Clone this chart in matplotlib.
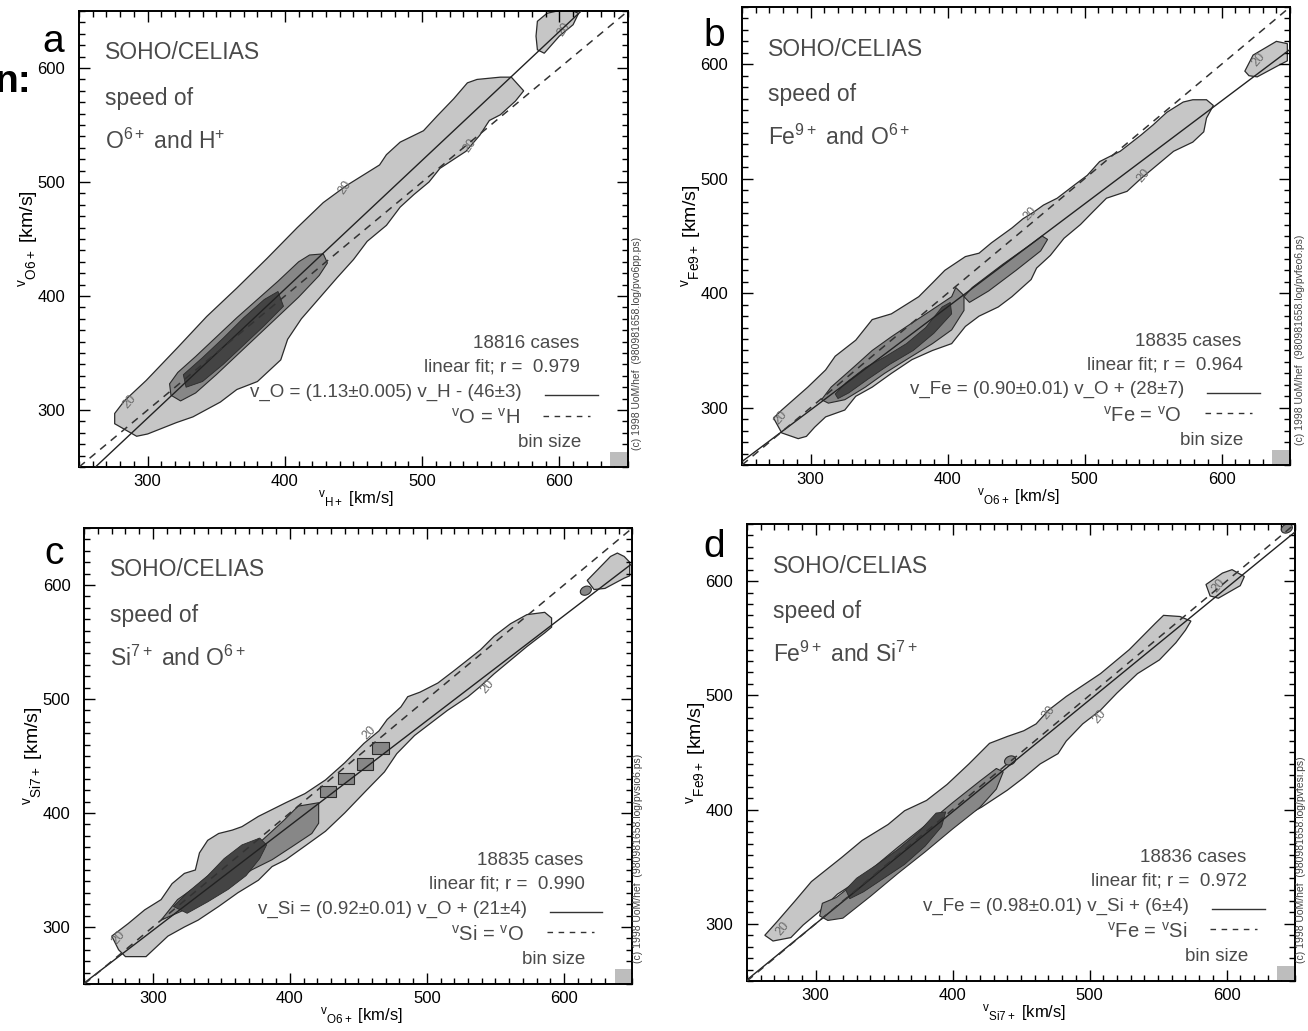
import matplotlib
matplotlib.use("Agg")
import matplotlib.pyplot as plt
import numpy as np
from matplotlib.patches import Polygon, Rectangle, Ellipse
from matplotlib.ticker import MultipleLocator

plt.rcParams['font.family'] = ['Liberation Sans', 'DejaVu Sans']
plt.rcParams['mathtext.fontset'] = 'custom'
plt.rcParams['mathtext.rm'] = 'Liberation Sans'
plt.rcParams['mathtext.it'] = 'Liberation Sans'

# ---- values (km/s) ----
panel_letters = ['a', 'b', 'c', 'd']
slopes = [1.13, 0.90, 0.92, 0.98]
intercepts = [-46, 28, 21, 6]
cases = [18816, 18835, 18835, 18836]
r_values = [0.979, 0.964, 0.990, 0.972]
fit_texts = ['v_O = (1.13\u00b10.005) v_H - (46\u00b13)',
             'v_Fe = (0.90\u00b10.01) v_O + (28\u00b17)',
             'v_Si = (0.92\u00b10.01) v_O + (21\u00b14)',
             'v_Fe = (0.98\u00b10.01) v_Si + (6\u00b14)']
ident_texts = [r'$^{\rm v}$O = $^{\rm v}$H',
               r'$^{\rm v}$Fe = $^{\rm v}$O',
               r'$^{\rm v}$Si = $^{\rm v}$O',
               r'$^{\rm v}$Fe = $^{\rm v}$Si']
species_texts = [r'O$^{6+}$ and H$^{+}$', r'Fe$^{9+}$ and O$^{6+}$',
                 r'Si$^{7+}$ and O$^{6+}$', r'Fe$^{9+}$ and Si$^{7+}$']
xlabels = [r'$^{\rm v}{}_{\rm H+}$ [km/s]', r'$^{\rm v}{}_{\rm O6+}$ [km/s]',
           r'$^{\rm v}{}_{\rm O6+}$ [km/s]', r'$^{\rm v}{}_{\rm Si7+}$ [km/s]']
ylabels = [r'$^{\rm v}{}_{\rm O6+}$ [km/s]', r'$^{\rm v}{}_{\rm Fe9+}$ [km/s]',
           r'$^{\rm v}{}_{\rm Si7+}$ [km/s]', r'$^{\rm v}{}_{\rm Fe9+}$ [km/s]']
ps_names = ['pvo6pp', 'pvfeo6', 'pvsio6', 'pvfesi']
bin_size = 12

# contour outlines (x, y) in km/s
a_outer = [(276,297),(283,308),(299,326),(322,355),(343,382),(365,407),(387,433),(409,460),
           (428,482),(445,497),(469,515),(474,524),(484,535),(501,545),(511,558),(523,573),
           (533,587),(540,590),(557,592),(565,592),(574,580),(568,571),(557,559),(549,554),
           (542,541),(532,527),(513,512),(505,500),(494,489),(484,478),(474,462),(460,448),
           (450,432),(438,416),(425,398),(412,380),(402,362),(397,344),(380,325),(365,318),
           (353,307),(333,294),(321,289),(300,279),(292,277),(276,288)]
a_blob = [(583,628),(584,641),(591,648),(606,652),(614,648),(610,638),(600,628),(589,613),(584,616)]
a_mid = [(316,323),(322,333),(335,347),(350,364),(365,381),(380,397),(395,413),(410,430),
         (418,436),(428,437),(431,429),(425,418),(410,399),(395,382),(380,365),(365,348),
         (350,331),(335,315),(324,308),(317,313)]
a_dark = [(326,331),(340,346),(355,363),(370,381),(385,397),(395,404),(399,391),(385,374),
          (370,357),(355,340),(340,325),(328,320)]

b_outer = [(273,291),(279,298),(298,318),(311,333),(318,345),(333,359),(345,377),(359,382),
           (379,397),(389,409),(398,420),(413,432),(423,435),(432,444),(447,457),(455,465),
           (463,471),(470,477),(480,483),(492,494),(502,503),(511,515),(526,524),(541,538),
           (550,547),(560,558),(572,567),(579,569),(589,569),(594,564),(589,553),(587,541),
           (579,532),(565,524),(550,509),(541,500),(531,489),(516,483),(506,471),(497,460),
           (485,448),(475,433),(465,422),(461,412),(447,397),(437,388),(423,380),(413,371),
           (403,356),(389,350),(374,342),(359,330),(345,318),(333,310),(325,298),(311,292),
           (303,283),(297,275),(291,273),(279,278)]
b_blob = [(617,594),(623,608),(640,620),(648,618),(648,603),(640,598),(626,589),(620,590)]
b_mid = [(308,307),(315,318),(332,336),(345,350),(359,362),(374,374),(388,385),(403,397),
         (406,405),(412,398),(412,385),(403,368),(389,356),(374,345),(354,330),(340,318),
         (325,307),(313,304)]
b_mid2 = [(412,397),(418,405),(440,425),(460,442),(469,450),(473,447),(468,437),(450,420),
          (430,402),(416,392)]
b_dark = [(318,312),(326,322),(340,335),(355,345),(370,356),(384,370),(396,388),(402,392),
          (403,382),(390,365),(375,350),(358,338),(342,325),(328,313),(320,308)]

c_outer = [(270,292),(282,303),(294,315),(306,324),(314,338),(323,347),(331,350),(334,365),
           (340,376),(348,382),(358,385),(365,388),(377,397),(397,409),(411,417),(426,429),
           (440,444),(454,461),(465,472),(471,482),(481,493),(486,502),(495,506),(508,514),
           (520,525),(539,543),(549,555),(561,566),(573,574),(586,576),(591,571),(591,563),
           (586,558),(573,546),(561,534),(549,522),(539,511),(530,502),(515,490),(503,479),
           (491,468),(478,452),(469,436),(456,420),(440,400),(426,384),(411,371),(397,359),
           (387,353),(377,341),(362,330),(348,318),(333,306),(323,300),(311,292),(303,283),
           (295,274),(280,274),(275,280)]
c_blob = [(617,604),(634,625),(639,628),(644,625),(648,620),(648,608),(644,606),(630,597),(622,596)]
c_mid = [(306,306),(318,324),(331,335),(348,353),(362,365),(377,373),(396,394),(406,406),
         (421,409),(421,391),(416,382),(401,370),(387,359),(372,350),(348,330),(323,315)]
c_boxes = [(428,419),(441,430),(455,443),(466,457)]
c_dark = [(315,318),(325,330),(340,345),(352,360),(365,372),(378,378),(383,372),(378,360),
          (368,345),(355,333),(340,322),(325,312)]
c_spots = [(616,595)]

d_outer = [(263,290),(272,302),(285,320),(297,337),(319,358),(334,373),(353,387),(365,399),
           (381,408),(396,422),(412,440),(427,458),(440,464),(452,469),(461,475),(470,487),
           (483,499),(508,519),(529,540),(548,563),(554,570),(566,569),(574,565),(570,557),
           (563,546),(551,531),(535,519),(520,502),(508,487),(495,475),(483,460),(477,449),
           (464,440),(452,428),(440,417),(421,402),(402,390),(396,381),(378,370),(353,355),
           (334,340),(316,326),(303,311),(291,299),(282,288),(269,285)]
d_blob = [(585,597),(597,607),(604,610),(613,604),(610,596),(594,585),(588,587)]
d_mid = [(303,307),(305,318),(315,323),(330,337),(345,352),(360,367),(380,386),(400,406),
         (420,425),(432,436),(437,433),(432,418),(420,402),(400,383),(380,363),(360,344),
         (340,324),(320,305),(309,303)]
d_dark = [(322,330),(330,340),(345,352),(360,365),(375,380),(388,397),(395,398),(392,385),
          (380,368),(365,352),(350,340),(335,328),(325,322)]
d_spots = [(442,443), (644,646)]

outer_polys = [[a_outer, a_blob], [b_outer, b_blob], [c_outer, c_blob], [d_outer, d_blob]]
mid_polys = [[a_mid], [b_mid, b_mid2], [c_mid], [d_mid]]
dark_polys = [[a_dark], [b_dark], [c_dark], [d_dark]]
boxes = [[], [], c_boxes, []]
spots = [[], [], c_spots, d_spots]

# contour-level labels "20" (x, y, angle)
level_labels = [[(287,307,50), (444,495,55), (535,532,55), (603,634,55)],
                [(278,291,50), (460,469,45), (543,503,50), (627,604,50)],
                [(275,291,50), (458,470,45), (544,511,50)],
                [(276,296,50), (470,485,50), (507,481,50), (594,596,50)]]

# axes positions in figure fraction [left, bottom, width, height]
positions = [[0.0604, 0.547, 0.4197, 0.4423],
             [0.5673, 0.549, 0.4190, 0.4442],
             [0.0645, 0.0456, 0.4190, 0.4423],
             [0.5711, 0.0485, 0.4190, 0.4433]]
letter_pos = [(0.041, 0.959), (0.546, 0.965), (0.041, 0.463), (0.546, 0.469)]
copy_pos = [(1.016, 0.27), (1.018, 0.273), (1.011, 0.276), (1.011, 0.265)]

LIGHT = '#c6c6c6'
MID = '#878787'
DARK = '#444444'
EDGE = '#2b2b2b'
TXT = '#4a4a4a'

fig = plt.figure(figsize=(13.08, 10.31), dpi=100)

for i in range(4):
    ax = fig.add_axes(positions[i])
    ax.set_xlim(250, 650)
    ax.set_ylim(250, 650)

    for poly in outer_polys[i]:
        ax.add_patch(Polygon(poly, closed=True, facecolor=LIGHT, edgecolor=EDGE, lw=0.9, zorder=1))
    for poly in mid_polys[i]:
        ax.add_patch(Polygon(poly, closed=True, facecolor=MID, edgecolor=EDGE, lw=0.8, zorder=2))
    for poly in dark_polys[i]:
        ax.add_patch(Polygon(poly, closed=True, facecolor=DARK, edgecolor=EDGE, lw=0.6, zorder=3))
    for (bx, by) in boxes[i]:
        ax.add_patch(Rectangle((bx - 6, by - 5), 12, 10, facecolor=MID, edgecolor=EDGE, lw=0.8, zorder=2))
    for (sx, sy) in spots[i]:
        ax.add_patch(Ellipse((sx, sy), 9, 7, angle=45, facecolor=MID, edgecolor=EDGE, lw=0.8, zorder=2))

    for (lx, ly, ang) in level_labels[i]:
        ax.text(lx, ly, '20', fontsize=9, color='#6a6a6a', rotation=ang,
                ha='center', va='center', zorder=4)

    xs = np.array([250, 650])
    ax.plot(xs, slopes[i] * xs + intercepts[i], color='#222222', lw=1.0, zorder=5)
    ax.plot(xs, xs, color='#333333', lw=1.1, ls=(0, (5, 4)), zorder=5)

    ax.add_patch(Rectangle((650 - bin_size - 1, 251), bin_size, bin_size,
                           facecolor='#bdbdbd', edgecolor='none', zorder=4))

    # ticks
    ax.xaxis.set_minor_locator(MultipleLocator(10))
    ax.yaxis.set_minor_locator(MultipleLocator(10))
    ax.set_xticks([300, 400, 500, 600])
    ax.set_yticks([300, 400, 500, 600])
    ax.tick_params(which='both', direction='in', top=True, right=True, width=1.0)
    ax.tick_params(which='major', length=8, labelsize=12)
    ax.tick_params(which='minor', length=4)
    ax.tick_params(axis='x', which='major', pad=5)
    ax.tick_params(axis='y', which='major', pad=10)
    for s in ax.spines.values():
        s.set_linewidth(1.4)

    ax.set_xlabel(xlabels[i], fontsize=12)
    ax.xaxis.set_label_coords(0.505, -0.045)
    ax.set_ylabel(ylabels[i], fontsize=14)
    ax.yaxis.set_label_coords(-0.071, 0.5)

    # header text
    ax.text(0.047, 0.908, 'SOHO/CELIAS', transform=ax.transAxes, fontsize=16.5,
            color=TXT, va='center')
    ax.text(0.047, 0.809, 'speed of', transform=ax.transAxes, fontsize=16.5,
            color=TXT, va='center')
    ax.text(0.047, 0.715, species_texts[i], transform=ax.transAxes, fontsize=16.5,
            color=TXT, va='center')

    # legend block
    ax.text(0.911, 0.27, '%d cases' % cases[i], transform=ax.transAxes, fontsize=13.5,
            color=TXT, ha='right', va='center')
    ax.text(0.913, 0.219, 'linear fit; r =  %.3f' % r_values[i], transform=ax.transAxes,
            fontsize=13.5, color=TXT, ha='right', va='center')
    ax.text(0.807, 0.164, fit_texts[i], transform=ax.transAxes, fontsize=13.5,
            color=TXT, ha='right', va='center')
    ax.plot([0.849, 0.945], [0.158, 0.158], transform=ax.transAxes, color='#333333', lw=1.0)
    ax.text(0.803, 0.108, ident_texts[i], transform=ax.transAxes, fontsize=14.5,
            color=TXT, ha='right', va='center')
    ax.plot([0.845, 0.93], [0.113, 0.113], transform=ax.transAxes, color='#333333',
            lw=1.0, ls=(0, (4, 4)))
    ax.text(0.914, 0.053, 'bin size', transform=ax.transAxes, fontsize=13.5,
            color=TXT, ha='right', va='center')

    ax.text(copy_pos[i][0], copy_pos[i][1],
            '(c) 1998 UoM/hef  (980981658.log/%s.ps)' % ps_names[i],
            transform=ax.transAxes, fontsize=7.5, color='#444444', rotation=90,
            ha='center', va='center')

    fig.text(letter_pos[i][0], letter_pos[i][1], panel_letters[i], fontsize=28,
             ha='center', va='center')

fig.text(-0.004, 0.92, 'n:', fontsize=28, fontweight='bold', ha='left', va='center')

fig.savefig('out.png', dpi=100)
